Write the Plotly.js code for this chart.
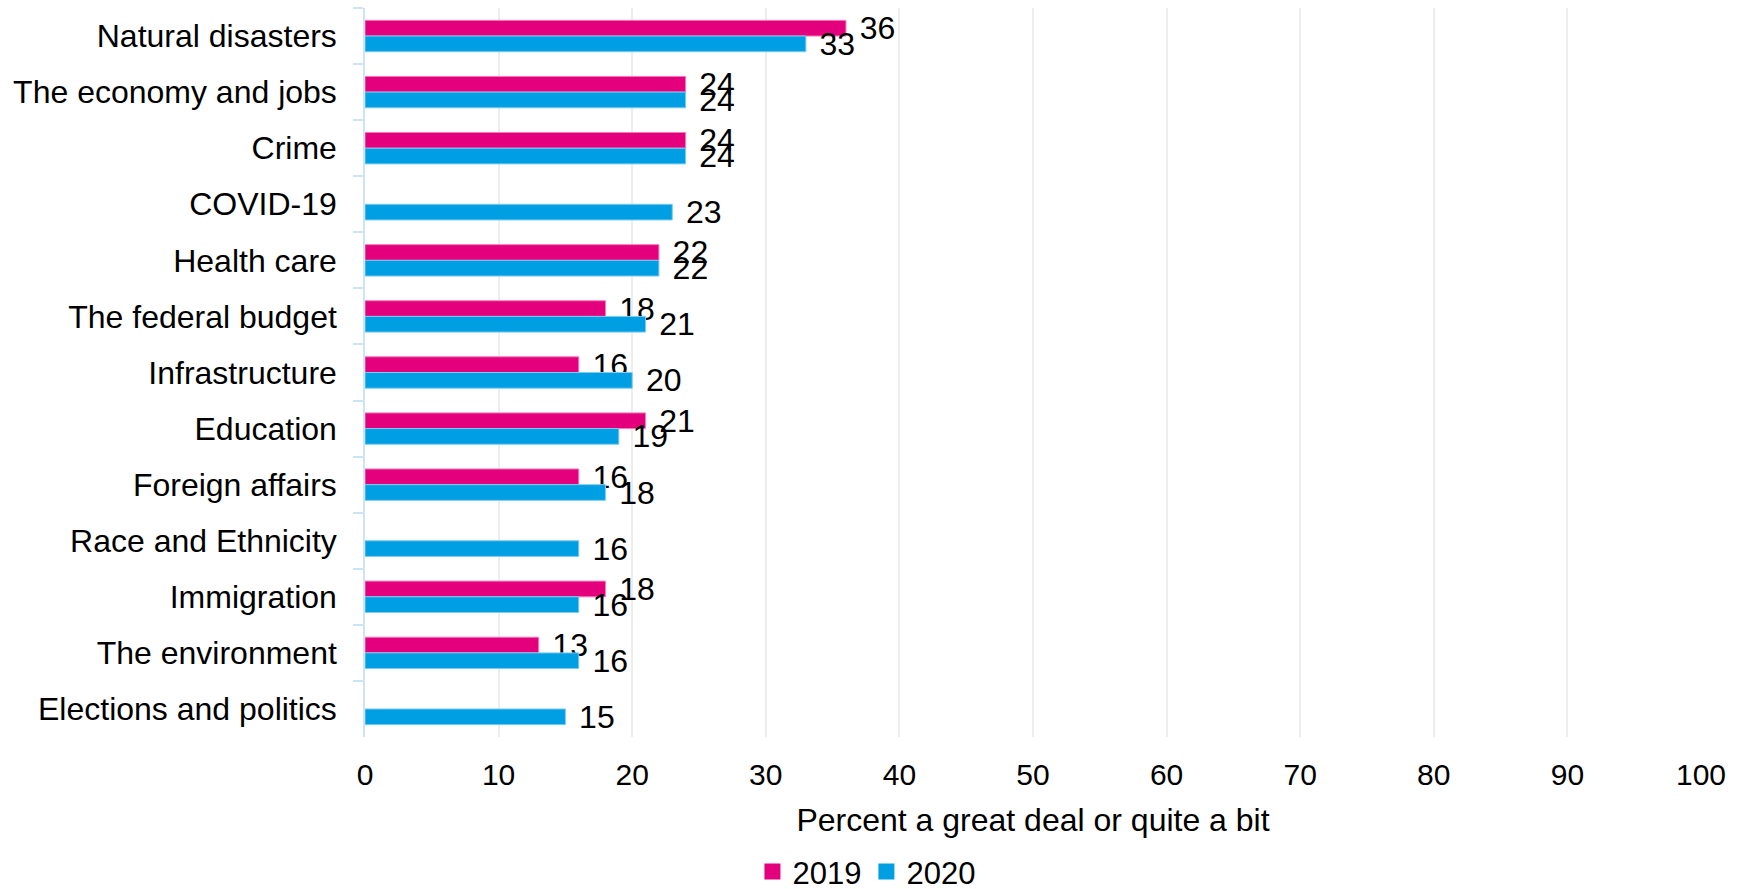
<!DOCTYPE html>
<html>
<head>
<meta charset="utf-8">
<script src="https://cdn.plot.ly/plotly-3.0.1.min.js"></script>
<style>html,body{margin:0;padding:0;background:#fff;}#chart{width:1744px;height:889px;}</style>
</head>
<body>
<div id="chart"></div>
<script>
const categories = [
  "Natural disasters",
  "The economy and jobs",
  "Crime",
  "COVID-19",
  "Health care",
  "The federal budget",
  "Infrastructure",
  "Education",
  "Foreign affairs",
  "Race and Ethnicity",
  "Immigration",
  "The environment",
  "Elections and politics"
];
const values2019 = [36, 24, 24, null, 22, 18, 16, 21, 16, null, 18, 13, null];
const values2020 = [33, 24, 24, 23, 22, 21, 20, 19, 18, 16, 16, 16, 15];
const seriesNames = ["2019", "2020"];
const xTicks = [0, 10, 20, 30, 40, 50, 60, 70, 80, 90, 100];

const PINK = "#E4007C";
const BLUE = "#009FE3";
const FONT = "Liberation Sans, Arial, sans-serif";

function barTrace(vals, name, color, lineColor) {
  return {
    type: "bar",
    orientation: "h",
    name: name,
    x: vals,
    y: categories,
    marker: { color: color, line: { color: lineColor, width: 1 } },
    texttemplate: "\u2004%{x}",
    textposition: "outside",
    constraintext: "none",
    cliponaxis: false,
    textfont: { family: FONT, size: 32, color: "#000" },
    showlegend: false,
    hoverinfo: "x+y+name"
  };
}
function legendTrace(name, color) {
  return {
    type: "scatter",
    mode: "markers",
    name: name,
    x: [null],
    y: [null],
    marker: { symbol: "square", size: 16, color: color },
    showlegend: true
  };
}

const data = [
  barTrace(values2019, seriesNames[0], PINK, "#F27DBB"),
  barTrace(values2020, seriesNames[1], BLUE, "#7FCBF1"),
  legendTrace(seriesNames[0], PINK),
  legendTrace(seriesNames[1], BLUE)
];

const layout = {
  width: 1744,
  height: 889,
  margin: { l: 365, r: 43, t: 8, b: 152, pad: 0, autoexpand: false },
  paper_bgcolor: "#fff",
  plot_bgcolor: "#fff",
  font: { family: FONT, size: 32, color: "#000" },
  barmode: "group",
  bargap: 0.44,
  bargroupgap: 0,
  xaxis: {
    range: [0, 100],
    tickvals: xTicks,
    ticktext: xTicks.map(String),
    showgrid: true,
    gridcolor: "#EDEDED",
    gridwidth: 1.5,
    zeroline: false,
    showline: false,
    ticks: "",
    ticklabelstandoff: 17,
    tickfont: { family: FONT, size: 30, color: "#000" },
    title: { text: "Percent a great deal or quite a bit", font: { family: FONT, size: 32, color: "#000" }, standoff: 18 },
    automargin: false,
    fixedrange: true
  },
  yaxis: {
    type: "category",
    categoryorder: "array",
    categoryarray: categories,
    autorange: "reversed",
    showgrid: false,
    zeroline: false,
    showline: true,
    linecolor: "#CDE3F6",
    linewidth: 1.5,
    ticks: "outside",
    tickson: "boundaries",
    ticklen: 10,
    tickwidth: 1.5,
    tickcolor: "#CDE3F6",
    ticklabelstandoff: 20,
    tickfont: { family: FONT, size: 32, color: "#000" },
    automargin: false,
    fixedrange: true
  },
  legend: {
    orientation: "h",
    x: 0.29,
    xanchor: "left",
    y: -0.185,
    yanchor: "middle",
    font: { family: FONT, size: 31, color: "#000" },
    bgcolor: "rgba(0,0,0,0)",
    itemclick: false,
    itemdoubleclick: false
  },
  showlegend: true
};

Plotly.newPlot("chart", data, layout, { displayModeBar: false, staticPlot: false });
</script>
</body>
</html>
